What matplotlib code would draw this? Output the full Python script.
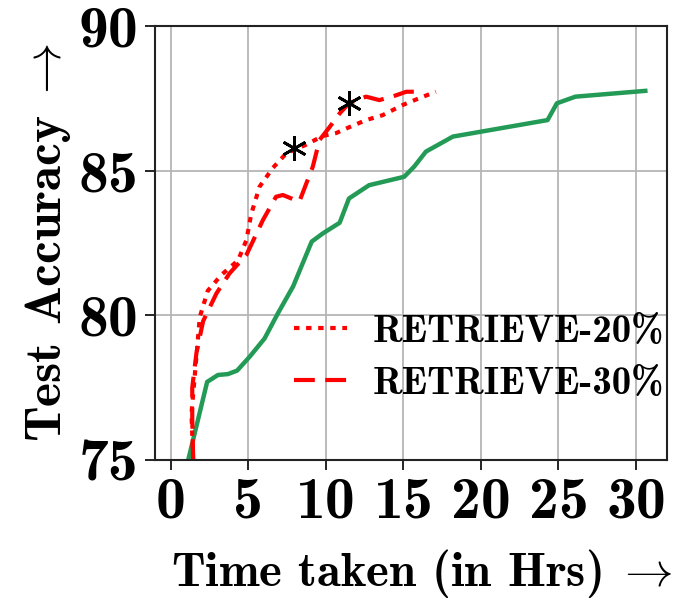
import matplotlib
matplotlib.use("Agg")
import matplotlib.pyplot as plt
from matplotlib.ticker import FixedLocator

plt.rcParams['font.family'] = ['cmb10', 'DejaVu Serif']
plt.rcParams['mathtext.fontset'] = 'cm'
plt.rcParams['axes.formatter.use_mathtext'] = True

# full-data baseline (green)
full_x = [1.14, 2.36, 3.06, 3.7, 4.29, 5.1, 6.06, 6.92, 7.9, 9.1, 9.81, 10.9, 11.5,
          12.8, 15.06, 15.7, 16.46, 18.2, 24.3, 24.9, 26.1, 30.6]
full_y = [75.0, 77.7, 77.94, 77.97, 78.09, 78.57, 79.2, 80.07, 81.0, 82.55, 82.83, 83.2,
          84.04, 84.5, 84.79, 85.14, 85.66, 86.18, 86.75, 87.33, 87.56, 87.76]

# RETRIEVE-20%
r20_x = [1.46, 1.35, 1.89, 2.4, 3.28, 4.35, 4.89, 5.2, 5.74, 6.6, 7.46, 8.74, 9.8,
         10.67, 11.5, 12.6, 13.67, 14.96, 16.0, 17.1]
r20_y = [75.0, 76.6, 79.95, 80.85, 81.4, 81.9, 82.6, 83.5, 84.45, 85.1, 85.6, 85.9, 86.2,
         86.3, 86.5, 86.75, 86.92, 87.27, 87.5, 87.73]

# RETRIEVE-30%
r30_x = [1.46, 1.4, 1.4, 1.67, 2.1, 2.96, 3.8, 4.9, 5.96, 6.8, 7.24, 8.3, 9.17, 9.6,
         10.24, 10.9, 11.5, 12.6, 13.46, 14.5, 15.2, 16.0]
r30_y = [75.0, 76.4, 77.5, 78.7, 79.8, 80.76, 81.45, 82.1, 83.3, 84.1, 84.16, 83.93,
         85.14, 86.06, 86.5, 86.98, 87.33, 87.56, 87.44, 87.6, 87.73, 87.73]

# star markers
star_x = [7.93, 11.49]
star_y = [85.77, 87.33]

xticks = [0, 5, 10, 15, 20, 25, 30]
yticks = [75, 80, 85, 90]

fig = plt.figure(figsize=(6.97, 6.06), dpi=100)
ax = fig.add_axes([0.2224, 0.2409, 0.7346, 0.7161])

ax.plot(full_x, full_y, color='#239b56', lw=3.2)
ax.plot(r20_x, r20_y, color='red', lw=3, linestyle=(0, (1.3, 1.6)), label='RETRIEVE-20%')
ax.plot(r30_x, r30_y, color='red', lw=3, linestyle=(0, (5, 2.5)), label='RETRIEVE-30%')
ax.plot(star_x, star_y, linestyle='none', marker=(6, 2, 0), color='black',
        markersize=18, markeredgewidth=2)

ax.set_xlim(-1, 32)
ax.set_ylim(75, 90)
ax.xaxis.set_major_locator(FixedLocator(xticks))
ax.yaxis.set_major_locator(FixedLocator(yticks))
ax.set_xticklabels([str(t) for t in xticks])
ax.set_yticklabels([str(t) for t in yticks])
ax.tick_params(labelsize=43, direction='out', length=7, width=1.2, colors='black', pad=5)
ax.grid(True, color='#b5b5b5', lw=1.3)
for s in ax.spines.values():
    s.set_linewidth(1.5)
    s.set_color('#222222')

ax.set_xlabel(r'Time taken (in Hrs)$\;\rightarrow$', fontsize=35)
ax.xaxis.set_label_coords(0.52, -0.262, transform=ax.transAxes)
ax.xaxis.label.set_va('center')
ax.set_ylabel(r'Test Accuracy$\;\rightarrow$', fontsize=37, labelpad=4)

ax.legend(loc='upper left', bbox_to_anchor=(0.271, 0.335), frameon=False, fontsize=28,
          handlelength=1.36, handletextpad=0.67, labelspacing=0.43,
          borderpad=0, borderaxespad=0)

fig.savefig('out.png', dpi=100)
